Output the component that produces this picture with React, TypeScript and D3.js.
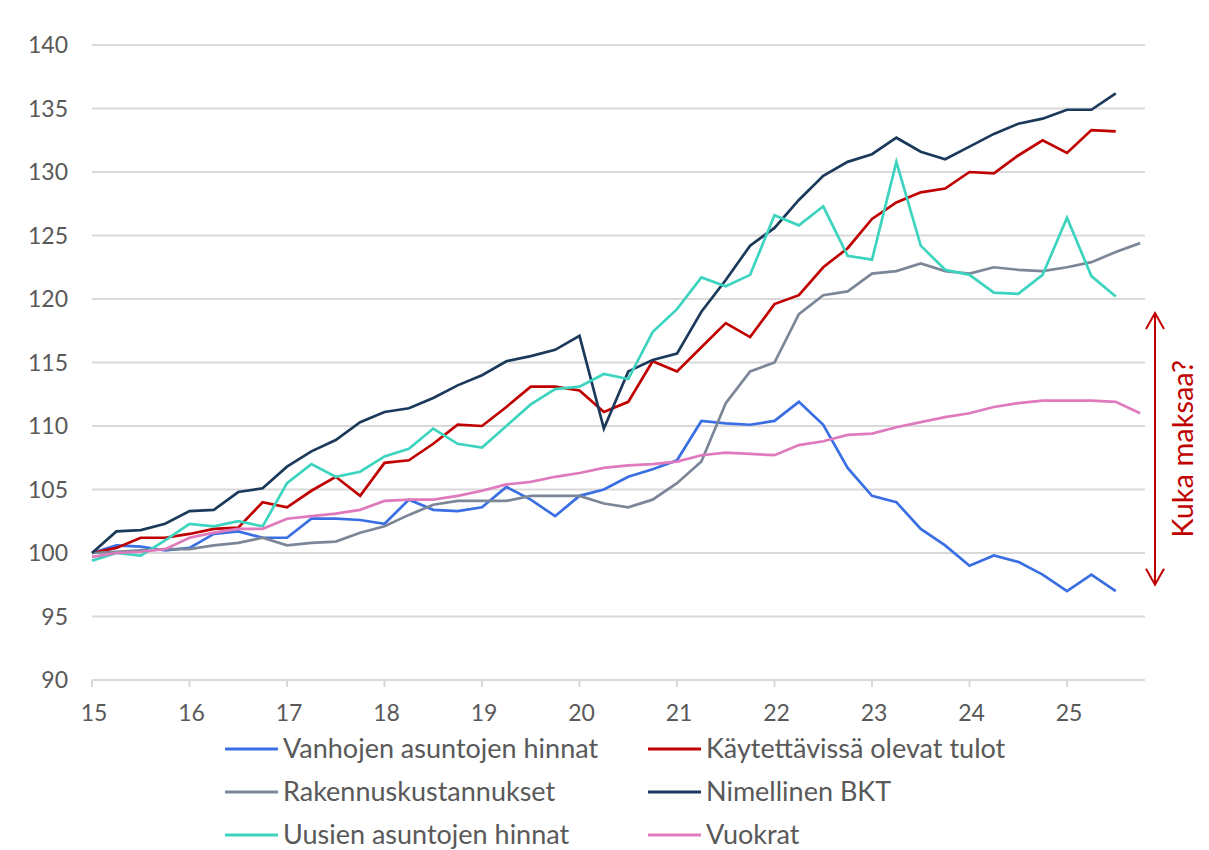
import React from 'react';
import * as d3 from 'd3';

// quarterly index, 2015Q1 = 100
const vanhat = [100, 100.6, 100.5, 100.2, 100.4, 101.5, 101.7, 101.2, 101.2, 102.7, 102.7, 102.6, 102.3, 104.2, 103.4, 103.3, 103.6, 105.2, 104.2, 102.9, 104.5, 105.0, 106.0, 106.6, 107.3, 110.4, 110.2, 110.1, 110.4, 111.9, 110.1, 106.7, 104.5, 104.0, 101.9, 100.6, 99.0, 99.8, 99.3, 98.3, 97.0, 98.3, 97.0];
const tulot = [100, 100.4, 101.2, 101.2, 101.5, 101.9, 102.0, 104.0, 103.6, 104.9, 106.0, 104.5, 107.1, 107.3, 108.6, 110.1, 110.0, 111.5, 113.1, 113.1, 112.8, 111.1, 111.9, 115.1, 114.3, 116.2, 118.1, 117.0, 119.6, 120.3, 122.5, 124.0, 126.3, 127.6, 128.4, 128.7, 130.0, 129.9, 131.3, 132.5, 131.5, 133.3, 133.2];
const rakennus = [100, 100.1, 100.2, 100.3, 100.3, 100.6, 100.8, 101.2, 100.6, 100.8, 100.9, 101.6, 102.1, 103.0, 103.8, 104.1, 104.1, 104.1, 104.5, 104.5, 104.5, 103.9, 103.6, 104.2, 105.5, 107.2, 111.8, 114.3, 115.0, 118.8, 120.3, 120.6, 122.0, 122.2, 122.8, 122.2, 122.0, 122.5, 122.3, 122.2, 122.5, 122.9, 123.7, 124.4];
const bkt = [100, 101.7, 101.8, 102.3, 103.3, 103.4, 104.8, 105.1, 106.8, 108.0, 108.9, 110.3, 111.1, 111.4, 112.2, 113.2, 114.0, 115.1, 115.5, 116.0, 117.1, 109.8, 114.3, 115.2, 115.7, 119.0, 121.5, 124.2, 125.6, 127.8, 129.7, 130.8, 131.4, 132.7, 131.6, 131.0, 132.0, 133.0, 133.8, 134.2, 134.9, 134.9, 136.2];
const uudet = [99.4, 100.0, 99.8, 101.0, 102.3, 102.1, 102.5, 102.1, 105.5, 107.0, 106.0, 106.4, 107.6, 108.2, 109.8, 108.6, 108.3, 110.0, 111.7, 112.9, 113.1, 114.1, 113.7, 117.4, 119.2, 121.7, 121.0, 121.9, 126.6, 125.8, 127.3, 123.4, 123.1, 130.8, 124.2, 122.3, 121.9, 120.5, 120.4, 121.9, 126.4, 121.8, 120.2];
const vuokrat = [99.7, 100.0, 100.1, 100.3, 101.2, 101.6, 101.9, 101.9, 102.7, 102.9, 103.1, 103.4, 104.1, 104.2, 104.2, 104.5, 104.9, 105.4, 105.6, 106.0, 106.3, 106.7, 106.9, 107.0, 107.2, 107.7, 107.9, 107.8, 107.7, 108.5, 108.8, 109.3, 109.4, 109.9, 110.3, 110.7, 111.0, 111.5, 111.8, 112.0, 112.0, 112.0, 111.9, 111.0];

const seriesNames = ['Vanhojen asuntojen hinnat', 'Käytettävissä olevat tulot', 'Rakennuskustannukset', 'Nimellinen BKT', 'Uusien asuntojen hinnat', 'Vuokrat'];
const seriesData = [vanhat, tulot, rakennus, bkt, uudet, vuokrat];
const colors = ['#3a6fe3', '#c00000', '#7b8797', '#1b3a5b', '#3dd4bf', '#df7abd'];

const yTicks = [90, 95, 100, 105, 110, 115, 120, 125, 130, 135, 140];
const xTicks = [15, 16, 17, 18, 19, 20, 21, 22, 23, 24, 25];

const startYear = 15;
const annotation = 'Kuka maksaa?';
const arrowRange = [118.9, 97.5];

const W = 1209;
const H = 850;
const FONT = 'Lato, "Open Sans", sans-serif';
const TEXT = '#595959';

export default function App() {
  const x = d3.scaleLinear().domain([15, 25.8]).range([92, 1145]);
  const y = d3.scaleLinear().domain([90, 140]).range([680, 45]);

  const line = d3.line<number>()
    .x((_, i) => x(startYear + i / 4))
    .y((d) => y(d));

  const ax = 1155;
  const aTop = y(arrowRange[0]);
  const aBot = y(arrowRange[1]);

  return (
    <svg width={W} height={H} style={{ position: 'absolute', left: 0, top: 0, background: '#fff' }} fontFamily={FONT}>
      {/* grid */}
      {yTicks.map((t) => (
        <line key={t} x1={x.range()[0]} x2={x.range()[1]} y1={y(t)} y2={y(t)} stroke="#d9d9d9" strokeWidth={2} />
      ))}
      {yTicks.map((t) => (
        <text key={'yl' + t} x={68} y={y(t)} dy="0.35em" textAnchor="end" fontSize={23} fill={TEXT}>{t}</text>
      ))}
      {xTicks.map((t) => (
        <g key={'xt' + t}>
          <line x1={x(t)} x2={x(t)} y1={y(90)} y2={y(90) + 7} stroke="#d9d9d9" strokeWidth={2} />
          <text x={x(t) + 2} y={721} textAnchor="middle" fontSize={23} fill={TEXT}>{t}</text>
        </g>
      ))}

      {/* series */}
      {seriesData.map((s, i) => (
        <path key={seriesNames[i]} d={line(s) || ''} fill="none" stroke={colors[i]} strokeWidth={2.7} strokeLinejoin="miter" />
      ))}

      {/* annotation */}
      <g stroke="#c00000" strokeWidth={2} fill="none">
        <line x1={ax} x2={ax} y1={aTop} y2={aBot} />
        <polyline points={`${ax - 9},${aTop + 16} ${ax},${aTop} ${ax + 9},${aTop + 16}`} />
        <polyline points={`${ax - 9},${aBot - 16} ${ax},${aBot} ${ax + 9},${aBot - 16}`} />
      </g>
      <text transform={`translate(1183,${(aTop + aBot) / 2}) rotate(-90)`} textAnchor="middle" dy="0.35em" fontSize={29} fill="#c00000">{annotation}</text>

      {/* legend */}
      {seriesNames.map((n, i) => {
        const col = i % 2;
        const row = Math.floor(i / 2);
        const lx = col === 0 ? 225 : 648;
        const ly = 749 + row * 43;
        return (
          <g key={'lg' + n}>
            <line x1={lx} x2={lx + 53} y1={ly} y2={ly} stroke={colors[i]} strokeWidth={3} />
            <text x={lx + 58} y={ly} dy="0.35em" fontSize={27} fill={TEXT}>{n}</text>
          </g>
        );
      })}
    </svg>
  );
}
